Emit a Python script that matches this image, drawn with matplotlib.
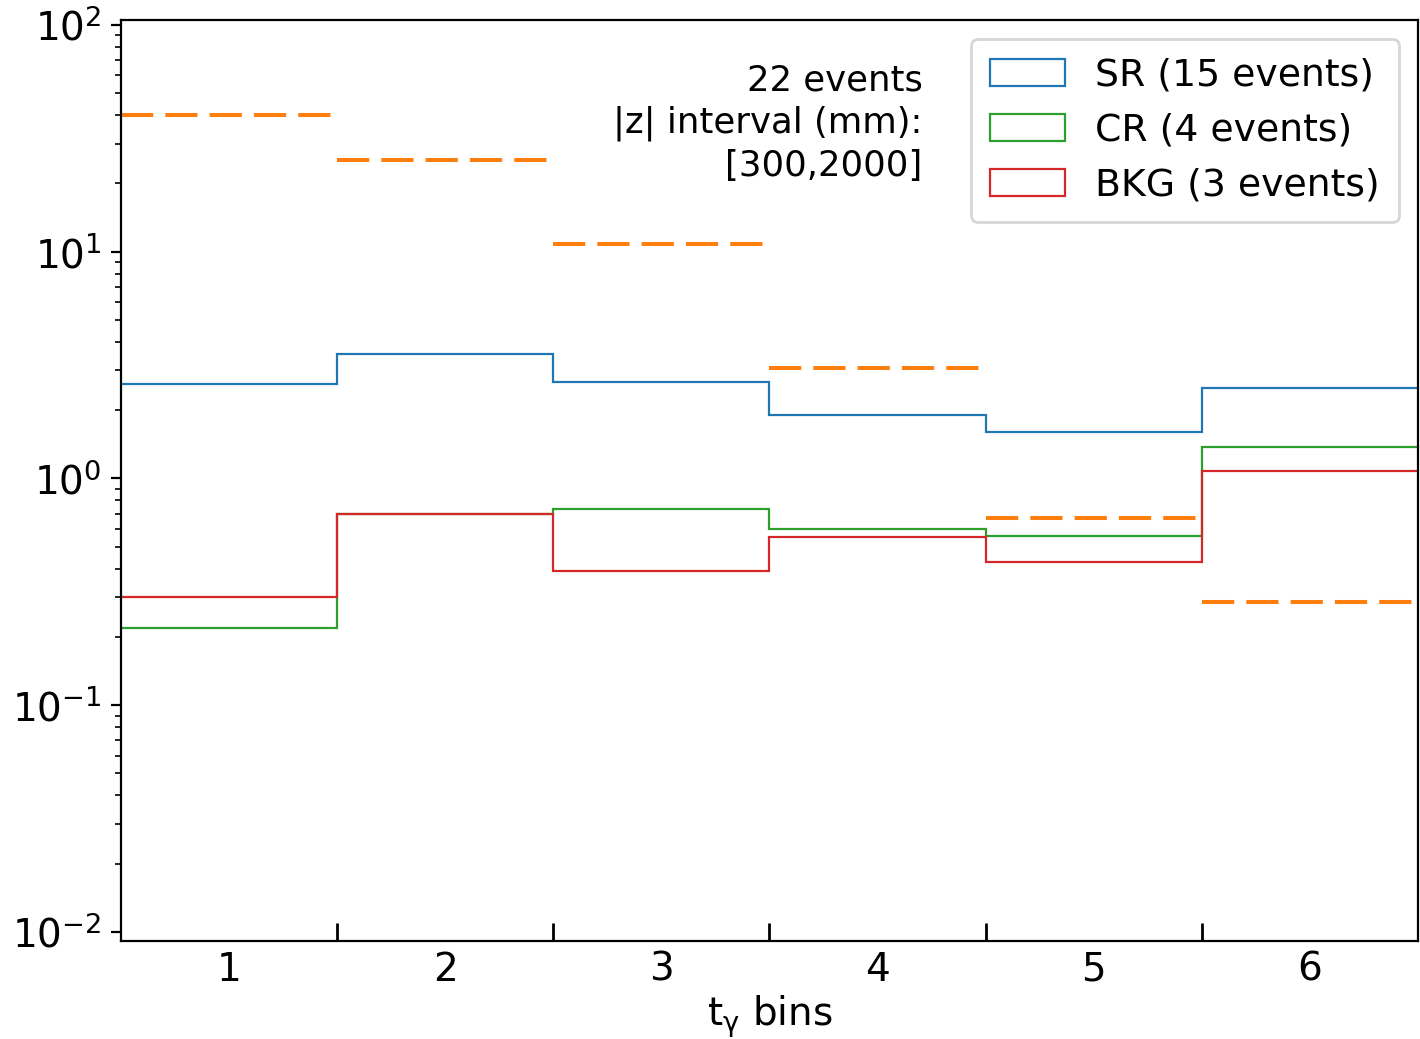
import numpy as np
import matplotlib
matplotlib.use('Agg')
import matplotlib.pyplot as plt
import matplotlib.patches as mpatches

# bin edges and labels
edges = [0.5, 1.5, 2.5, 3.5, 4.5, 5.5, 6.5]
bin_labels = ['1', '2', '3', '4', '5', '6']

# per-bin yields
sr = [2.60, 3.55, 2.65, 1.90, 1.60, 2.50]
cr = [0.218, 0.694, 0.730, 0.600, 0.556, 1.375]
bkg = [0.299, 0.694, 0.389, 0.551, 0.430, 1.08]
# dashed orange level per bin
limit = [39.9, 25.3, 10.8, 3.06, 0.668, 0.284]

names = ['SR (15 events)', 'CR (4 events)', 'BKG (3 events)']
colors = ['#1f77b4', '#2ca02c', '#d62728']

fig = plt.figure(figsize=(7.1, 5.195), dpi=200)
ax = fig.add_axes([0.0852, 0.0943, 0.9134, 0.8865])

for vals, c in zip([sr, cr, bkg], colors):
    ax.stairs(vals, edges, baseline=None, color=c, lw=0.8)
ax.hlines(limit, edges[:-1], edges[1:], colors='#ff7f0e', lw=1.45,
          linestyles=[(0, (8, 3))])

ax.set_yscale('log')
ax.set_ylim(10**-2.04, 10**2.022)
ax.set_xlim(edges[0], edges[-1])

# edges as inward ticks, labels at bin centres
centres = [(edges[i] + edges[i + 1]) / 2 for i in range(len(bin_labels))]
ax.set_xticks(edges[1:-1])
ax.set_xticklabels([])
ax.set_xticks(centres, minor=True)
ax.set_xticklabels(bin_labels, minor=True)
ax.tick_params(axis='x', which='major', direction='in', length=6.5, width=1)
ax.tick_params(axis='x', which='minor', length=0, labelsize=14, pad=3.5)
ax.tick_params(axis='y', which='both', labelsize=14)

ax.set_xlabel(r'$\mathregular{t_{\gamma}}$ bins', fontsize=14, labelpad=1.5)

ax.text(0.618, 0.953, '22 events\n|z| interval (mm):\n[300,2000]',
        transform=ax.transAxes, ha='right', va='top', fontsize=12.8,
        linespacing=1.3)

handles = [mpatches.Patch(fill=False, edgecolor=c, lw=0.8) for c in colors]
ax.legend(handles, names, loc='upper right', fontsize=13.6, borderpad=0.5)

fig.savefig('out.png', dpi=200)
